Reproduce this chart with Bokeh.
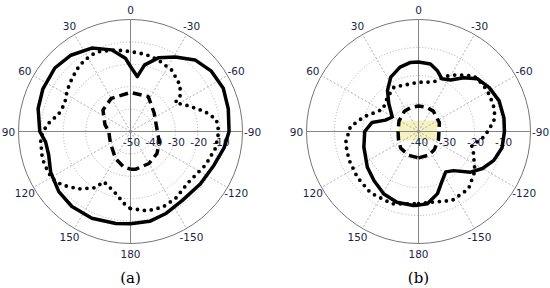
import numpy as np
from bokeh.plotting import figure
from bokeh.embed import file_html
from bokeh.resources import INLINE
from bokeh.core.properties import value

# ---------------- data (angle in degrees, value in dB) ----------------
ANGLE_TICKS = [0, 30, 60, 90, 120, 150, 180, -150, -120, -90, -60, -30]

A_RINGS = [-50, -40, -30, -20, -10]
B_RINGS = [-40, -30, -20, -10]

A_SOLID_DEG = [-180, -168, -157, -143, -127, -112, -100, -90, -77, -65, -53, -42, -31, -21, -12, -7, 0, 4, 13, 25, 38, 50, 64, 76, 90, 97, 106, 117, 130, 142, 156, 171, 180]
A_SOLID_DB = [-8.8, -9.0, -10.1, -11.5, -11.0, -9.8, -7.6, -6.0, -5.2, -4.3, -5.0, -7.0, -11.2, -14.7, -19.6, -25.3, -21.0, -17.2, -12.6, -8.9, -6.8, -5.9, -6.5, -7.5, -9.5, -11.8, -12.0, -10.0, -8.2, -7.5, -7.6, -8.4, -8.8]

A_DOT_DEG = [-180, -168, -157, -146, -131, -114, -101, -90, -82, -75, -66, -57, -55, -47, -34, -21, -11, 0, 11, 21, 27, 34, 41, 49, 57, 67, 77, 82, 86, 94, 107, 115, 121, 128, 138, 148, 152, 165, 175, 180]
A_DOT_DB = [-15.6, -13.8, -13.3, -14.0, -15.6, -13.3, -11.3, -10.6, -11.3, -15.6, -21.7, -26.3, -23.0, -19.7, -17.0, -15.7, -14.9, -14.3, -12.9, -11.7, -11.6, -12.3, -13.4, -15.0, -16.3, -18.1, -16.9, -14.3, -12.4, -9.7, -8.8, -9.0, -9.2, -11.2, -15.5, -20.4, -24.6, -22.1, -17.7, -15.6]

A_DASH_DEG = [-180, -172, -150, -130, -110, -90, -70, -52, -27, 0, 30, 52, 75, 90, 105, 121, 151, 169, 180]
A_DASH_DB = [-33.2, -33.0, -33.5, -34.6, -36.3, -38.0, -38.0, -36.6, -32.5, -32.6, -32.9, -34.4, -38.2, -40.3, -40.3, -39.6, -36.2, -33.9, -33.2]

B_SOLID_DEG = [-180, -173, -163, -154, -146, -138, -128, -120, -111, -101, -90, -81, -69, -58, -48, -40, -32, -24, -17, -10, 0, 7, 16, 27, 37, 47, 61, 71, 79, 90, 106, 125, 138, 151, 163, 176, 180]
B_SOLID_DB = [-13.7, -14.0, -16.8, -20.6, -22.6, -21.2, -16.4, -13.6, -11.2, -9.6, -9.3, -9.1, -9.2, -10.3, -11.8, -14.9, -18.3, -19.4, -17.2, -15.5, -15.2, -15.2, -16.1, -18.2, -21.6, -25.5, -29.3, -27.5, -23.1, -20.8, -19.7, -17.7, -16.3, -14.5, -13.6, -13.5, -13.7]

B_DOT_DEG = [-180, -169, -154, -139, -125, -111, -105, -95, -90, -82, -76, -70, -59, -52, -45, -39, -31, -25, -17, 0, 29, 42, 58, 75, 86, 99, 112, 127, 142, 160, 180]
B_DOT_DB = [-14.2, -14.3, -12.6, -12.8, -15.4, -19.0, -20.3, -16.7, -15.3, -12.8, -12.0, -11.6, -11.4, -11.7, -12.0, -14.1, -16.5, -18.4, -21.5, -22.4, -21.9, -23.5, -25.0, -19.8, -15.6, -13.6, -13.2, -12.7, -12.2, -12.5, -14.2]

B_DASH_DEG = [-180, -157, -139, -112, -90, -67, -36, -18, 0, 18, 35, 62, 90, 112, 133, 157, 180]
B_DASH_DB = [-30.6, -30.8, -31.4, -32.3, -32.7, -31.9, -31.0, -30.9, -30.9, -31.0, -31.2, -32.1, -32.7, -32.3, -31.3, -30.8, -30.6]

# ---------------- layout ----------------
W, H = 550, 288
R = 112
LABEL_R = 122
TXT = "#1a2545"
FONT = value("DejaVu Sans")

p = figure(width=W, height=H, x_range=(0, W), y_range=(0, H),
           x_axis_type=None, y_axis_type=None, output_backend="svg",
           toolbar_location=None, min_border=0)
p.grid.visible = False
p.outline_line_color = None


def polar_xy(cx, cy, deg, db, rmin):
    deg = np.asarray(deg, float)
    r = (np.asarray(db, float) - rmin) / (0.0 - rmin) * R
    a = np.radians(90.0 + deg)
    return cx + r * np.cos(a), cy + r * np.sin(a)


def panel(cx, cy, rings, rmin, solid, dot, dash, tag):
    ring_r = [(v - rmin) / (0.0 - rmin) * R for v in rings if v > rmin]
    p.circle(x=[cx] * len(ring_r), y=[cy] * len(ring_r), radius=ring_r,
             fill_color=None, line_color="#9a9a9a", line_width=0.8, line_dash="1 2")
    p.circle(x=[cx], y=[cy], radius=[R], fill_color=None, line_color="#757575", line_width=1)
    sp = [d for d in ANGLE_TICKS if d % 90 != 0]
    x1, y1 = polar_xy(cx, cy, sp, [0.0] * len(sp), rmin)
    p.segment(x0=[cx] * len(sp), y0=[cy] * len(sp), x1=x1, y1=y1,
              line_color="#9a9a9a", line_width=0.8, line_dash="2 2")
    p.segment(x0=[cx - R, cx], y0=[cy, cy - R], x1=[cx + R, cx], y1=[cy, cy + R],
              line_color="#858585", line_width=1)
    ax = [cx + LABEL_R * np.cos(np.radians(90 + d)) for d in ANGLE_TICKS]
    ay = [cy + LABEL_R * np.sin(np.radians(90 + d)) for d in ANGLE_TICKS]
    p.text(x=ax, y=ay, text=[str(d) for d in ANGLE_TICKS], text_font=FONT,
           text_font_size="10.5px", text_color=TXT, text_align="center", text_baseline="middle")
    rx = [cx + (v - rmin) / (0.0 - rmin) * R + 1 for v in rings]
    p.text(x=rx, y=[cy - 10.5] * len(rings), text=[str(v) for v in rings], text_font=FONT,
           text_font_size="10.5px", text_color=TXT, text_align="center", text_baseline="middle")
    sx, sy = polar_xy(cx, cy, *solid, rmin)
    p.line(sx, sy, line_color="black", line_width=3.5, line_join="round")
    dx, dy = polar_xy(cx, cy, *dot, rmin)
    p.line(dx, dy, line_color="black", line_width=3.8, line_dash="0 7", line_cap="round")
    hx, hy = polar_xy(cx, cy, *dash, rmin)
    p.line(hx, hy, line_color="black", line_width=3.5, line_dash="9 5")
    p.text(x=[cx], y=[11], text=[tag], text_font=value("DejaVu Serif"),
           text_font_size="15px", text_color="black", text_align="center", text_baseline="middle")


# pale highlight patch in panel (b)
p.quad(left=[398], right=[437], bottom=[148], top=[168],
       fill_color="#f6f2c0", line_color=None)

panel(130, 157, A_RINGS, -50.0, (A_SOLID_DEG, A_SOLID_DB), (A_DOT_DEG, A_DOT_DB), (A_DASH_DEG, A_DASH_DB), "(a)")
panel(418, 157, B_RINGS, -40.0, (B_SOLID_DEG, B_SOLID_DB), (B_DOT_DEG, B_DOT_DB), (B_DASH_DEG, B_DASH_DB), "(b)")

open("out.html", "w").write(file_html(p, INLINE))
